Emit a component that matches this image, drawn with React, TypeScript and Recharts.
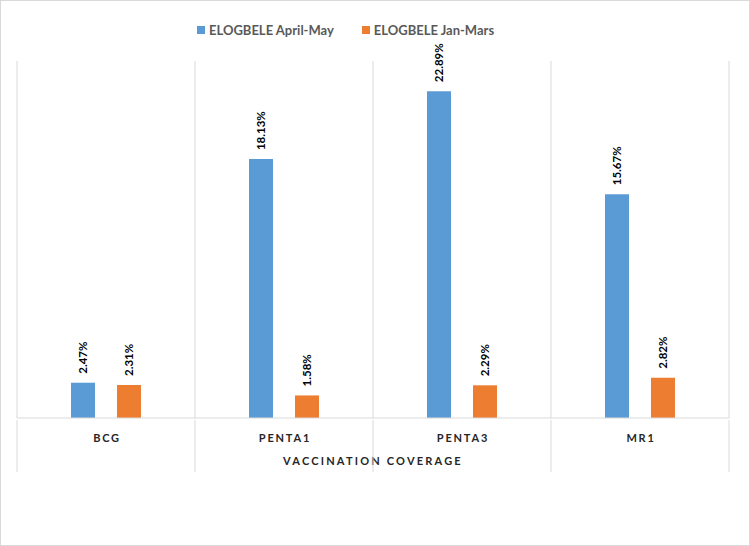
import React from 'react';
import { BarChart, Bar, XAxis, YAxis, CartesianGrid, LabelList } from 'recharts';

const categories = ['BCG', 'PENTA1', 'PENTA3', 'MR1'];
const aprilMay = [2.47, 18.13, 22.89, 15.67];
const janMars = [2.31, 1.58, 2.29, 2.82];

const seriesNames = ['ELOGBELE April-May', 'ELOGBELE Jan-Mars'];
const colors = ['#5b9bd5', '#ed7d31'];

const chartData = categories.map((name, i) => ({
  name,
  aprilMay: aprilMay[i],
  janMars: janMars[i],
}));

const FONT = 'Lato, "Open Sans", sans-serif';
const GRID = '#d9d9d9';

// rotated percentage label above each bar
const BarLabel = (props: any) => {
  const { x, y, width, value } = props;
  const cx = x + width / 2;
  const cy = y - 9;
  return (
    <text
      x={cx}
      y={cy}
      transform={`rotate(-90, ${cx}, ${cy})`}
      textAnchor="start"
      dominantBaseline="central"
      fontFamily={FONT}
      fontWeight={700}
      fontSize={11.5}
      fill="#000"
    >
      {Number(value).toFixed(2)}%
    </text>
  );
};

// category label plus the divider lines that run down through the axis area
const CategoryTick = (props: any) => {
  const { x, y, payload, index, visibleTicksCount } = props;
  const half = payload && payload.offset ? payload.offset : 89;
  return (
    <g>
      <line x1={x - half} y1={y} x2={x - half} y2={y + 52} stroke={GRID} />
      {index === visibleTicksCount - 1 && (
        <line x1={x + half} y1={y} x2={x + half} y2={y + 52} stroke={GRID} />
      )}
      <text
        x={x + 1}
        y={y + 22}
        textAnchor="middle"
        fontFamily={FONT}
        fontWeight={700}
        fontSize={11}
        letterSpacing={1.8}
        fill="#262626"
      >
        {payload.value}
      </text>
    </g>
  );
};

const LegendBox = () => (
  <div
    style={{
      position: 'absolute',
      left: 196,
      top: 21,
      display: 'flex',
      gap: 28,
      fontFamily: FONT,
      fontWeight: 700,
      fontSize: 13,
      color: '#595959',
      whiteSpace: 'nowrap',
    }}
  >
    {seriesNames.map((n, i) => (
      <div key={n} style={{ display: 'flex', alignItems: 'center' }}>
        <span style={{ display: 'inline-block', width: 8, height: 8, background: colors[i], marginRight: 4 }} />
        <span>{n}</span>
      </div>
    ))}
  </div>
);

export default function App() {
  return (
    <div
      style={{
        position: 'absolute',
        left: 0,
        top: 0,
        width: 750,
        height: 546,
        boxSizing: 'border-box',
        border: '1px solid #d9d9d9',
        background: '#fff',
      }}
    >
      <div style={{ position: 'absolute', left: -1, top: -1 }}>
        <BarChart
          width={750}
          height={546}
          data={chartData}
          margin={{ top: 61, right: 21, bottom: 68, left: 17 }}
          barSize={24}
          barGap={22}
          barCategoryGap="30%"
        >
          <CartesianGrid
            horizontal={false}
            stroke={GRID}
            verticalCoordinatesGenerator={({ offset }: any) =>
              categories.map((_, i) => offset.left + (i * offset.width) / categories.length).concat(offset.left + offset.width)
            }
          />
          <XAxis
            dataKey="name"
            height={60}
            tickLine={false}
            tickSize={0}
            axisLine={{ stroke: GRID }}
            tick={<CategoryTick />}
            interval={0}
            label={{
              content: (p: any) => {
                const vb = p.viewBox || {};
                return (
                  <text
                    x={vb.x + vb.width / 2}
                    y={vb.y + 47}
                    textAnchor="middle"
                    fontFamily={FONT}
                    fontWeight={700}
                    fontSize={11}
                    letterSpacing={2.2}
                    fill="#262626"
                  >
                    VACCINATION COVERAGE
                  </text>
                );
              },
            }}
          />
          <YAxis hide domain={[0, 25]} />
          <Bar dataKey="aprilMay" name={seriesNames[0]} fill={colors[0]} isAnimationActive={false}>
            <LabelList dataKey="aprilMay" content={<BarLabel />} />
          </Bar>
          <Bar dataKey="janMars" name={seriesNames[1]} fill={colors[1]} isAnimationActive={false}>
            <LabelList dataKey="janMars" content={<BarLabel />} />
          </Bar>
        </BarChart>
      </div>
      <LegendBox />
    </div>
  );
}
